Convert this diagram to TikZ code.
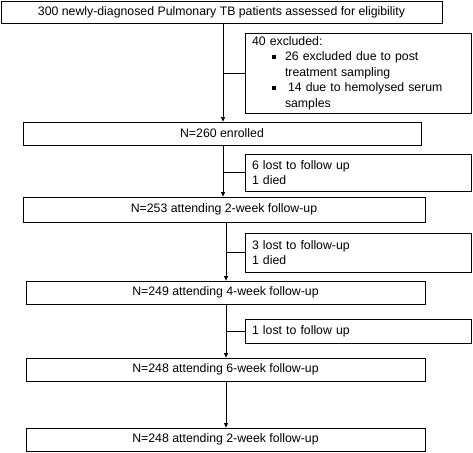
\documentclass[tikz,border=0pt]{standalone}
\usepackage{fontspec}
\setmainfont{Liberation Sans}
\usetikzlibrary{arrows.meta}
\begin{document}
\begin{tikzpicture}[x=1pt,y=-1pt,
  box/.style={draw, line width=0.8pt, inner sep=0pt, minimum height=23pt,
    font=\fontsize{12.3}{15}\selectfont},
  side/.style={draw, line width=0.8pt, inner xsep=7pt, inner ysep=0pt,
    text width=212pt, align=left, font=\fontsize{12.3}{15}\selectfont},
  arr/.style={-{Triangle[length=4.5pt,width=4pt]}, line width=0.8pt},
  lnk/.style={line width=0.8pt}]
\useasboundingbox (0,0) rectangle (473,452);
\newcommand{\sqbul}{\rule[1.5pt]{4pt}{4pt}}
% main boxes
\node[box, minimum width=441pt, minimum height=22pt] (top) at (221.5,12) {300 newly-diagnosed Pulmonary TB patients assessed for eligibility};
\node[box, minimum width=398pt] (enr) at (222,133.5) {N=260 enrolled};
\node[box, minimum width=402pt, minimum height=25pt] (wa) at (224,209.5) {N=253 attending 2-week follow-up};
\node[box, minimum width=399pt] (wb) at (225.5,292.5) {N=249 attending 4-week follow-up};
\node[box, minimum width=399pt] (wc) at (225.5,369.5) {N=248 attending 6-week follow-up};
\node[box, minimum width=399pt] (wd) at (225.5,439.5) {N=248 attending 2-week follow-up};
% side boxes
\node[side, minimum height=80pt, font=\fontsize{12.3}{15.5}\selectfont] (ex) at (358,73) {40 excluded:\\
\hspace*{20pt}\sqbul\hspace*{9pt}26 excluded due to post\\
\hspace*{33pt}treatment sampling\\
\hspace*{20pt}\sqbul\hspace*{12pt}14 due to hemolysed serum\\
\hspace*{33pt}samples};
\node[side, minimum height=37pt] (la) at (358,172.5) {6 lost to follow up\\1 died};
\node[side, minimum height=39pt] (lb) at (358,252.5) {3 lost to follow-up\\1 died};
\node[side, minimum height=24pt] (lc) at (358,331) {1 lost to follow up};
% trunk
\coordinate (c1) at (223,0);
\coordinate (c3) at (226,0);
\draw[arr] (top.south -| c1) -- (enr.north -| c1);
\draw[lnk] (c1 |- ex.west) -- (ex.west);
\draw[arr] (enr.south -| c1) -- (wa.north -| c1);
\draw[lnk] (c1 |- la.west) -- (la.west);
\draw[arr] (wa.south -| c3) -- (wb.north -| c3);
\draw[lnk] (c3 |- lb.west) -- (lb.west);
\draw[arr] (wb.south -| c3) -- (wc.north -| c3);
\draw[lnk] (c3 |- lc.west) -- (lc.west);
\draw[arr] (wc.south -| c3) -- (wd.north -| c3);
\end{tikzpicture}
\end{document}
